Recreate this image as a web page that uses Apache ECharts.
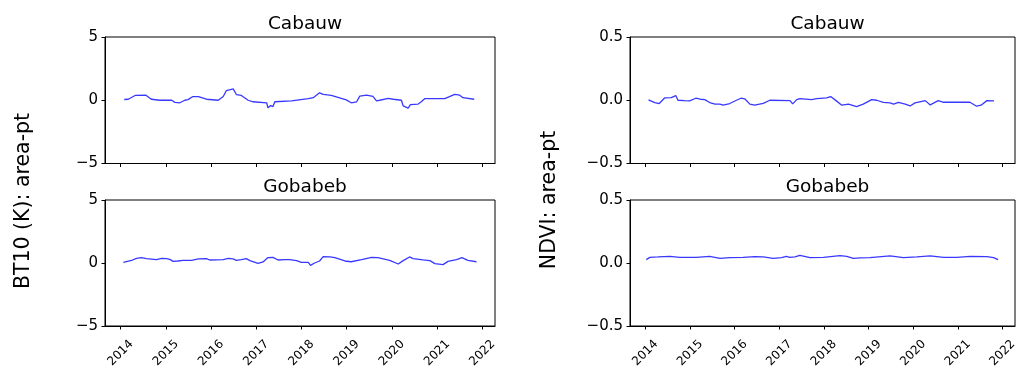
<!DOCTYPE html>
<html>
<head>
<meta charset="utf-8">
<script src="https://cdn.jsdelivr.net/npm/echarts@6/dist/echarts.min.js"></script>
<style>html,body{margin:0;padding:0;background:#fff;}#c{width:1023px;height:372px;}</style>
</head>
<body>
<div id="c"></div>
<script>
var yearTicks = [2014, 2015, 2016, 2017, 2018, 2019, 2020, 2021, 2022];
var panelTitles = ['Cabauw', 'Gobabeb', 'Cabauw', 'Gobabeb'];
var leftAxisName = 'BT10 (K): area-pt';
var rightAxisName = 'NDVI: area-pt';

var cabauwBtYears = [2014.08,2014.17,2014.32,2014.56,2014.68,2014.87,2015.13,2015.20,2015.31,2015.42,2015.49,2015.59,2015.72,2015.90,2016.16,2016.27,2016.34,2016.49,2016.56,2016.67,2016.82,2016.93,2017.23,2017.26,2017.32,2017.37,2017.41,2017.78,2017.82,2018.15,2018.26,2018.40,2018.48,2018.66,2018.99,2019.10,2019.22,2019.29,2019.44,2019.58,2019.66,2019.73,2019.92,2020.03,2020.21,2020.25,2020.36,2020.41,2020.58,2020.65,2020.73,2021.17,2021.39,2021.50,2021.57,2021.82];
var cabauwBtValues = [0.06,0.08,0.38,0.40,0.08,0,0,-0.17,-0.2,0,0.05,0.28,0.28,0.08,0,0.3,0.77,0.9,0.45,0.38,0,-0.12,-0.2,-0.6,-0.42,-0.5,-0.12,-0.05,0.1,0.13,0.2,0.59,0.47,0.38,0.03,-0.2,-0.12,0.33,0.4,0.3,-0.05,0,0.15,0.08,0,-0.45,-0.62,-0.35,-0.3,-0.12,0.13,0.13,0.47,0.4,0.2,0.08];

var gobabebBtYears = [2014.06,2014.10,2014.24,2014.35,2014.46,2014.57,2014.79,2014.91,2015.02,2015.10,2015.16,2015.27,2015.38,2015.57,2015.72,2015.90,2015.97,2016.27,2016.38,2016.49,2016.56,2016.67,2016.78,2016.86,2017.04,2017.15,2017.26,2017.37,2017.48,2017.63,2017.74,2017.89,2018.00,2018.15,2018.20,2018.29,2018.40,2018.48,2018.63,2018.74,2018.96,2019.10,2019.33,2019.55,2019.69,2019.95,2020.14,2020.25,2020.39,2020.47,2020.69,2020.84,2020.95,2021.13,2021.24,2021.43,2021.55,2021.68,2021.87];
var gobabebBtValues = [0.05,0.1,0.2,0.37,0.42,0.35,0.27,0.37,0.35,0.27,0.13,0.16,0.21,0.21,0.32,0.35,0.24,0.27,0.37,0.32,0.21,0.27,0.35,0.19,-0.03,0.08,0.43,0.45,0.24,0.27,0.27,0.19,0.05,0.05,-0.19,0,0.16,0.5,0.48,0.43,0.16,0.1,0.27,0.45,0.42,0.21,-0.08,0.19,0.48,0.35,0.24,0.19,-0.05,-0.13,0.13,0.27,0.43,0.21,0.1];

var cabauwNdviYears = [2014.07,2014.21,2014.31,2014.43,2014.58,2014.68,2014.73,2014.88,2014.99,2015.13,2015.23,2015.33,2015.44,2015.56,2015.67,2015.74,2015.89,2016.04,2016.14,2016.23,2016.34,2016.45,2016.64,2016.79,2017.24,2017.30,2017.39,2017.46,2017.72,2017.84,2018.06,2018.15,2018.25,2018.40,2018.55,2018.58,2018.73,2018.88,2019.07,2019.18,2019.33,2019.48,2019.56,2019.67,2019.70,2019.82,2019.93,2020.04,2020.27,2020.38,2020.56,2020.68,2021.27,2021.42,2021.52,2021.65,2021.81];
var cabauwNdviValues = [0.003,-0.018,-0.026,0.018,0.021,0.037,0,-0.003,-0.005,0.016,0.008,0.005,-0.018,-0.031,-0.031,-0.039,-0.026,0,0.016,0.01,-0.031,-0.039,-0.024,0,-0.003,-0.029,0.005,0.013,0.005,0.013,0.018,0.029,0.003,-0.039,-0.031,-0.045,-0.05,-0.031,0.005,0,-0.016,-0.021,-0.031,-0.016,-0.031,-0.031,-0.045,-0.021,-0.003,-0.037,-0.003,-0.016,-0.016,-0.047,-0.039,-0.003,-0.005];

var gobabebNdviYears = [2014.02,2014.10,2014.28,2014.55,2014.77,2015.14,2015.44,2015.67,2015.89,2016.19,2016.45,2016.64,2016.86,2017.05,2017.16,2017.23,2017.35,2017.46,2017.69,2017.99,2018.36,2018.51,2018.66,2018.81,2019.03,2019.48,2019.78,2020.08,2020.38,2020.68,2020.98,2021.27,2021.65,2021.80,2021.90];
var gobabebNdviValues = [0.027,0.045,0.048,0.053,0.045,0.045,0.053,0.037,0.043,0.045,0.05,0.048,0.037,0.043,0.053,0.045,0.048,0.061,0.043,0.045,0.059,0.053,0.037,0.04,0.043,0.056,0.043,0.048,0.056,0.045,0.045,0.053,0.05,0.043,0.027];

function zip(xs, ys) { return xs.map(function (x, i) { return [x, ys[i]]; }); }
function minusFmt(s) { return s.replace('-', '\u2212'); }

var FONT = 'DejaVu Sans';
var grids = [
  { left: 105, top: 37, width: 390, height: 126.5 },
  { left: 105, top: 200, width: 390, height: 126 },
  { left: 630, top: 37, width: 385, height: 126.5 },
  { left: 630, top: 200, width: 385, height: 126 }
].map(function (g) {
  return Object.assign({ show: true, borderColor: '#000', borderWidth: 1, backgroundColor: 'transparent' }, g);
});

var xAxes = [0, 1, 2, 3].map(function (i) {
  var bottom = (i === 1 || i === 3);
  return {
    type: 'value', gridIndex: i, min: 2013.655, max: 2022.28,
    splitLine: { show: false },
    axisLine: { show: true, onZero: false, lineStyle: { color: '#000', width: 1 } },
    axisTick: { show: true, customValues: yearTicks, length: 3.5, lineStyle: { color: '#000', width: 1 } },
    axisLabel: {
      show: bottom, customValues: yearTicks, rotate: 45, fontSize: 12, fontFamily: FONT, color: '#000',
      align: 'center', verticalAlign: 'middle', margin: 27,
      formatter: function (v) { return String(Math.round(v)); }
    }
  };
});

var yAxes = [0, 1, 2, 3].map(function (i) {
  var bt = i < 2;
  return {
    type: 'value', gridIndex: i,
    min: bt ? -5 : -0.5, max: bt ? 5 : 0.5, interval: bt ? 5 : 0.5,
    splitLine: { show: false },
    axisLine: { show: true, onZero: false, lineStyle: { color: '#000', width: 1 } },
    axisTick: { show: true, length: 3.5, lineStyle: { color: '#000', width: 1 } },
    axisLabel: {
      fontSize: 15, fontFamily: FONT, color: '#000', margin: 7,
      formatter: function (v) { return minusFmt(bt ? String(v) : v.toFixed(1)); }
    }
  };
});

var seriesData = [
  zip(cabauwBtYears, cabauwBtValues),
  zip(gobabebBtYears, gobabebBtValues),
  zip(cabauwNdviYears, cabauwNdviValues),
  zip(gobabebNdviYears, gobabebNdviValues)
];

var series = seriesData.map(function (d, i) {
  return {
    type: 'line', xAxisIndex: i, yAxisIndex: i, data: d,
    showSymbol: false, symbol: 'none', animation: false,
    lineStyle: { color: '#0000ff', width: 1.3, opacity: 0.78 }
  };
});

var titleCenters = [300, 300, 822.5, 822.5];
var titleTops = [10, 173, 10, 173];
var titles = panelTitles.map(function (t, i) {
  return {
    text: t, left: titleCenters[i], top: titleTops[i], textAlign: 'center',
    textStyle: { fontFamily: FONT, fontSize: 18.5, fontWeight: 'normal', color: '#000' }
  };
});

var chart = echarts.init(document.getElementById('c'), null, { renderer: 'canvas' });
chart.setOption({
  animation: false,
  backgroundColor: '#fff',
  title: titles,
  grid: grids,
  xAxis: xAxes,
  yAxis: yAxes,
  series: series,
  graphic: [
    { type: 'text', x: 24, y: 201, rotation: Math.PI / 2,
      style: { text: leftAxisName, font: '20.5px "DejaVu Sans"', fill: '#000', align: 'center', verticalAlign: 'middle' } },
    { type: 'text', x: 550, y: 200, rotation: Math.PI / 2,
      style: { text: rightAxisName, font: '20.5px "DejaVu Sans"', fill: '#000', align: 'center', verticalAlign: 'middle' } }
  ]
});
</script>
</body>
</html>
